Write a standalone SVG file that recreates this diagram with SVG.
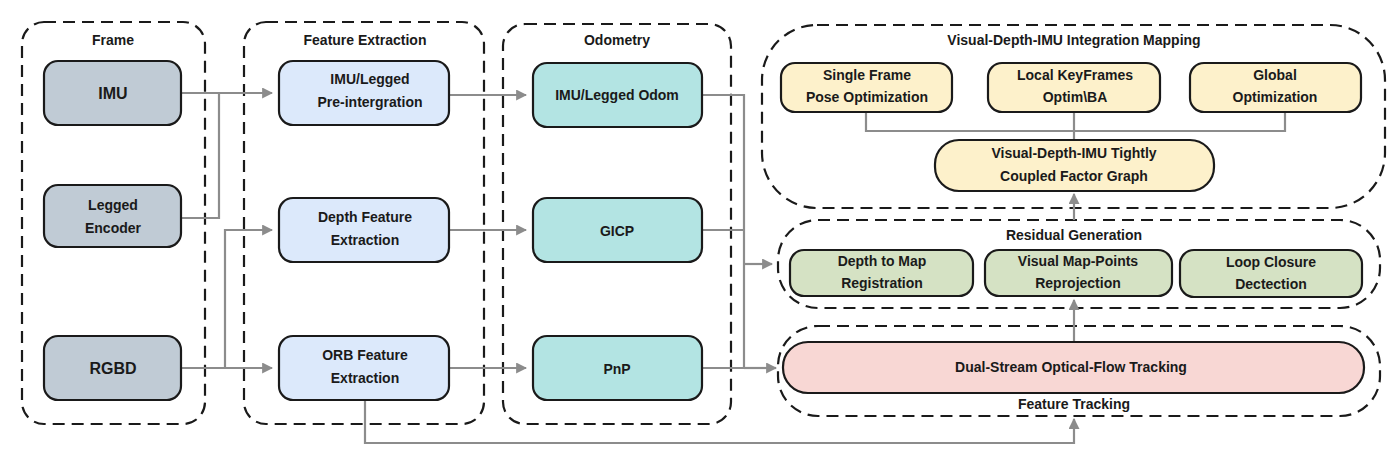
<svg xmlns="http://www.w3.org/2000/svg" width="1400" height="460" viewBox="0 0 1400 460">
<defs>
<marker id="ar" viewBox="0 0 10 10" refX="9" refY="5" markerWidth="5" markerHeight="5" orient="auto"><path d="M0,0L10,5L0,10z" fill="#8c8c8c"/></marker>
<style>
text{font-family:"Liberation Sans",Arial,sans-serif;font-weight:bold;fill:#1a1a1a;text-anchor:middle}
.c{fill:none;stroke:#1a1a1a;stroke-width:2.2;stroke-dasharray:12 7}
.n{stroke:#1a1a1a;stroke-width:2.2}
.t{font-size:14px}
.l{font-size:14px}
.k{fill:none;stroke:#8c8c8c;stroke-width:2.2}
.f{fill:#c0cbd5}.e{fill:#dce9fb}.o{fill:#b3e4e3}.y{fill:#fdf1cb}.g{fill:#d5e2c4}.p{fill:#f8d7d4}
</style>
</defs>
<g id="frame"><rect class="c" x="22" y="22" width="183" height="402" rx="22"/><text class="t" x="113" y="45">Frame</text></g>
<g id="fe"><rect class="c" x="244" y="22" width="240" height="402" rx="22"/><text class="t" x="365" y="45">Feature Extraction</text></g>
<g id="od"><rect class="c" x="503" y="24" width="228" height="400" rx="22"/><text class="t" x="617" y="45">Odometry</text></g>
<g id="map"><rect class="c" x="762" y="25" width="623" height="183" rx="55"/><text class="t" x="1074" y="45">Visual-Depth-IMU Integration Mapping</text></g>
<g id="res"><rect class="c" x="778" y="220" width="602" height="88" rx="40"/><text class="t" x="1074" y="240">Residual Generation</text></g>
<g id="ft"><rect class="c" x="778" y="326" width="602" height="90" rx="40"/><text class="t" x="1074" y="409">Feature Tracking</text></g>
<g id="connectors">
<path class="k" d="M181,93H272" marker-end="url(#ar)"/>
<path class="k" d="M181,218H219V93"/>
<path class="k" d="M181,368H272" marker-end="url(#ar)"/>
<path class="k" d="M225,368V230H272" marker-end="url(#ar)"/>
<path class="k" d="M449,95H526" marker-end="url(#ar)"/>
<path class="k" d="M449,230H526" marker-end="url(#ar)"/>
<path class="k" d="M449,368H526" marker-end="url(#ar)"/>
<path class="k" d="M702,95H744V368H702"/>
<path class="k" d="M702,230H744"/>
<path class="k" d="M744,264H772" marker-end="url(#ar)"/>
<path class="k" d="M744,368H776" marker-end="url(#ar)"/>
<path class="k" d="M365,400V443H1074V419" marker-end="url(#ar)"/>
<path class="k" d="M1074,342V300" marker-end="url(#ar)"/>
<path class="k" d="M1074,220V194" marker-end="url(#ar)"/>
<path class="k" d="M866,112V131H1285V112M1074,112V140"/>
</g>
<g id="imu"><rect class="n f" x="44" y="61" width="137" height="64" rx="14"/><text x="113" y="99" style="font-size:16px">IMU</text></g>
<g id="leg"><rect class="n f" x="44" y="185" width="137" height="62" rx="14"/><text class="l" x="113" y="210">Legged</text><text class="l" x="113" y="233">Encoder</text></g>
<g id="rgbd"><rect class="n f" x="44" y="336" width="137" height="64" rx="14"/><text x="113" y="374" style="font-size:16px">RGBD</text></g>
<g id="pre"><rect class="n e" x="279" y="61" width="170" height="64" rx="14"/><text class="l" x="370" y="84">IMU/Legged</text><text class="l" x="370" y="107">Pre-intergration</text></g>
<g id="dfe"><rect class="n e" x="279" y="198" width="170" height="64" rx="14"/><text class="l" x="365" y="222">Depth Feature</text><text class="l" x="365" y="245">Extraction</text></g>
<g id="orb"><rect class="n e" x="279" y="336" width="170" height="64" rx="14"/><text class="l" x="365" y="360">ORB Feature</text><text class="l" x="365" y="383">Extraction</text></g>
<g id="iodom"><rect class="n o" x="533" y="63" width="169" height="64" rx="14"/><text class="l" x="617" y="100">IMU/Legged  Odom</text></g>
<g id="gicp"><rect class="n o" x="533" y="198" width="169" height="64" rx="14"/><text class="l" x="617" y="236">GICP</text></g>
<g id="pnp"><rect class="n o" x="533" y="336" width="169" height="64" rx="14"/><text class="l" x="617" y="374">PnP</text></g>
<g id="sf"><rect class="n y" x="781" y="63" width="171" height="49" rx="14"/><text class="l" x="867" y="80">Single Frame</text><text class="l" x="867" y="102">Pose Optimization</text></g>
<g id="lk"><rect class="n y" x="988" y="63" width="172" height="49" rx="14"/><text class="l" x="1075" y="80">Local KeyFrames</text><text class="l" x="1075" y="102">Optim\BA</text></g>
<g id="go"><rect class="n y" x="1190" y="63" width="171" height="49" rx="14"/><text class="l" x="1275" y="80">Global</text><text class="l" x="1275" y="102">Optimization</text></g>
<g id="fg"><rect class="n y" x="935" y="140" width="279" height="51" rx="24"/><text class="l" x="1074" y="158">Visual-Depth-IMU Tightly</text><text class="l" x="1074" y="181">Coupled Factor Graph</text></g>
<g id="dm"><rect class="n g" x="790" y="250" width="183" height="46" rx="14"/><text class="l" x="882" y="266">Depth to Map</text><text class="l" x="882" y="288">Registration</text></g>
<g id="vm"><rect class="n g" x="985" y="250" width="187" height="46" rx="14"/><text class="l" x="1078" y="266">Visual Map-Points</text><text class="l" x="1078" y="288">Reprojection</text></g>
<g id="lc"><rect class="n g" x="1180" y="250" width="182" height="47" rx="14"/><text class="l" x="1271" y="267">Loop Closure</text><text class="l" x="1271" y="289">Dectection</text></g>
<g id="ds"><rect class="n p" x="783" y="342" width="581" height="51" rx="25"/><text class="l" x="1071" y="372">Dual-Stream Optical-Flow Tracking</text></g>
</svg>
